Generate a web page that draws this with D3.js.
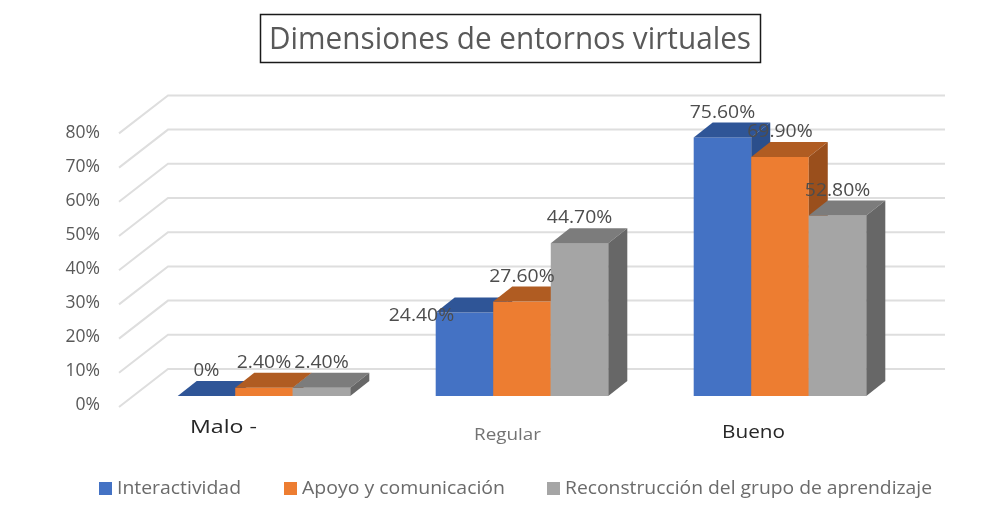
<!DOCTYPE html>
<html>
<head>
<meta charset="utf-8">
<script src="https://d3js.org/d3.v7.min.js"></script>
<style>
  html, body { margin: 0; padding: 0; background: #fff; }
  svg { display: block; font-family: "Open Sans", sans-serif; filter: blur(0.5px); }
</style>
</head>
<body>
<svg width="998" height="515"></svg>
<script>
const categories = ["Malo", "Regular", "Bueno"];
const seriesNames = ["Interactividad", "Apoyo y comunicación", "Reconstrucción del grupo de aprendizaje"];
const interactividad = [0, 24.4, 75.6];
const apoyo = [2.4, 27.6, 69.9];
const reconstruccion = [2.4, 44.7, 52.8];
const tickValues = [0, 10, 20, 30, 40, 50, 60, 70, 80];

const seriesValues = [interactividad, apoyo, reconstruccion];
const colors = [
  { front: "#4472c4", top: "#2f5597", side: "#2b4f8c" },
  { front: "#ed7d31", top: "#b05c22", side: "#9a4f1c" },
  { front: "#a5a5a5", top: "#7c7c7c", side: "#676767" }
];

const svg = d3.select("svg");
const depthX = 19, depthY = 15;   // fake 3d offset of the bars
const wallX = 49, wallY = 38;     // offset between front edge and back wall

// base of the bars sits at 396, height 34.2px per 10%
const y = d3.scaleLinear().domain([0, 80]).range([396, 122.4]);
const x0 = d3.scaleBand().domain(categories).range([135, 909]).paddingInner(0.331).paddingOuter(0.1655);
const x1 = d3.scaleBand().domain(d3.range(3)).range([0, x0.bandwidth()]);

// gridlines: slanted floor part + back wall part
const gridOff = 396 - 369;
const grid = svg.append("g").attr("fill", "none").attr("stroke", "#dedede").attr("stroke-width", 2);
grid.selectAll("path")
  .data(tickValues)
  .enter()
  .append("path")
  .attr("d", d => `M119,${y(d) - gridOff + wallY}L${119 + wallX},${y(d) - gridOff}H945`);

// y axis labels
const yLabels = d3.scaleLinear().domain([0, 80]).range([404, 132]);
const yAxis = svg.append("g")
  .attr("transform", "translate(100,0)")
  .call(d3.axisLeft(yLabels).tickValues(tickValues).tickSize(0).tickPadding(0).tickFormat(d => d + "%"));
yAxis.select(".domain").remove();
yAxis.selectAll("text")
  .style("font-family", "'Open Sans', sans-serif")
  .style("font-size", "17.5px")
  .attr("fill", "#595959");

// bars
categories.forEach((cat, i) => {
  const g = svg.append("g").attr("transform", `translate(${x0(cat)},0)`);
  seriesValues.forEach((vals, s) => {
    const left = x1(s), right = x1(s) + x1.bandwidth();
    const top = y(vals[i]), base = y(0);
    g.append("rect")
      .attr("x", left).attr("y", top)
      .attr("width", x1.bandwidth()).attr("height", base - top)
      .attr("fill", colors[s].front);
    g.append("path")
      .attr("d", `M${left},${top}L${left + depthX},${top - depthY}H${right + depthX}L${right},${top}Z`)
      .attr("fill", colors[s].top);
    g.append("path")
      .attr("d", `M${right},${top}L${right + depthX},${top - depthY}V${base - depthY}L${right},${base}Z`)
      .attr("fill", colors[s].side);
  });
});

// value labels, the blue Regular one is moved off to the left in the original
const labelFormat = v => v === 0 ? "0%" : d3.format(".2f")(v) + "%";
categories.forEach((cat, i) => {
  seriesValues.forEach((vals, s) => {
    const moved = cat === "Regular" && s === 0;
    const label = labelFormat(vals[i]);
    svg.append("text")
      .attr("x", x0(cat) + x1(s) + x1.bandwidth() / 2 + (moved ? -43 : 0))
      .attr("y", y(vals[i]) - 26 + (moved ? 28 : 0))
      .attr("dy", "0.35em")
      .attr("text-anchor", "middle")
      .attr("font-size", 18)
      .attr("fill", "#4d4d4d")
      .attr("textLength", label.length === 2 ? 26 : label.length * 10.9)
      .attr("lengthAdjust", "spacingAndGlyphs")
      .text(label);
  });
});

// category labels, not aligned the same way in the original
const catText = [
  { label: "Malo -", x: 190, y: 433, size: 19, fill: "#262626", len: 67 },
  { label: "Regular", x: 474, y: 440, size: 17, fill: "#737373", len: 67 },
  { label: "Bueno", x: 722, y: 438, size: 19, fill: "#262626", len: 63 }
];
svg.selectAll(".cat")
  .data(catText)
  .enter()
  .append("text")
  .attr("class", "cat")
  .attr("x", d => d.x).attr("y", d => d.y)
  .attr("font-size", d => d.size)
  .attr("fill", d => d.fill)
  .attr("textLength", d => d.len)
  .attr("lengthAdjust", "spacingAndGlyphs")
  .text(d => d.label);

// title
svg.append("rect")
  .attr("x", 260.5).attr("y", 14.5).attr("width", 500).attr("height", 48)
  .attr("fill", "#fff").attr("stroke", "#1a1a1a").attr("stroke-width", 1.5);
svg.append("text")
  .attr("x", 510).attr("y", 49)
  .attr("text-anchor", "middle")
  .attr("font-size", 31)
  .attr("fill", "#595959")
  .attr("textLength", 482)
  .attr("lengthAdjust", "spacingAndGlyphs")
  .text("Dimensiones de entornos virtuales");

// legend
const legendX = [99, 284, 547];
const legendLen = [124, 203, 367];
const legend = svg.selectAll(".legend")
  .data(seriesNames)
  .enter()
  .append("g")
  .attr("class", "legend")
  .attr("transform", (d, i) => `translate(${legendX[i]},482)`);
legend.append("rect")
  .attr("width", 13).attr("height", 13)
  .attr("fill", (d, i) => colors[i].front);
legend.append("text")
  .attr("x", 18).attr("y", 12)
  .attr("font-size", 18)
  .attr("fill", "#6b6b6b")
  .attr("textLength", (d, i) => legendLen[i])
  .attr("lengthAdjust", "spacingAndGlyphs")
  .text(d => d);
</script>
</body>
</html>
